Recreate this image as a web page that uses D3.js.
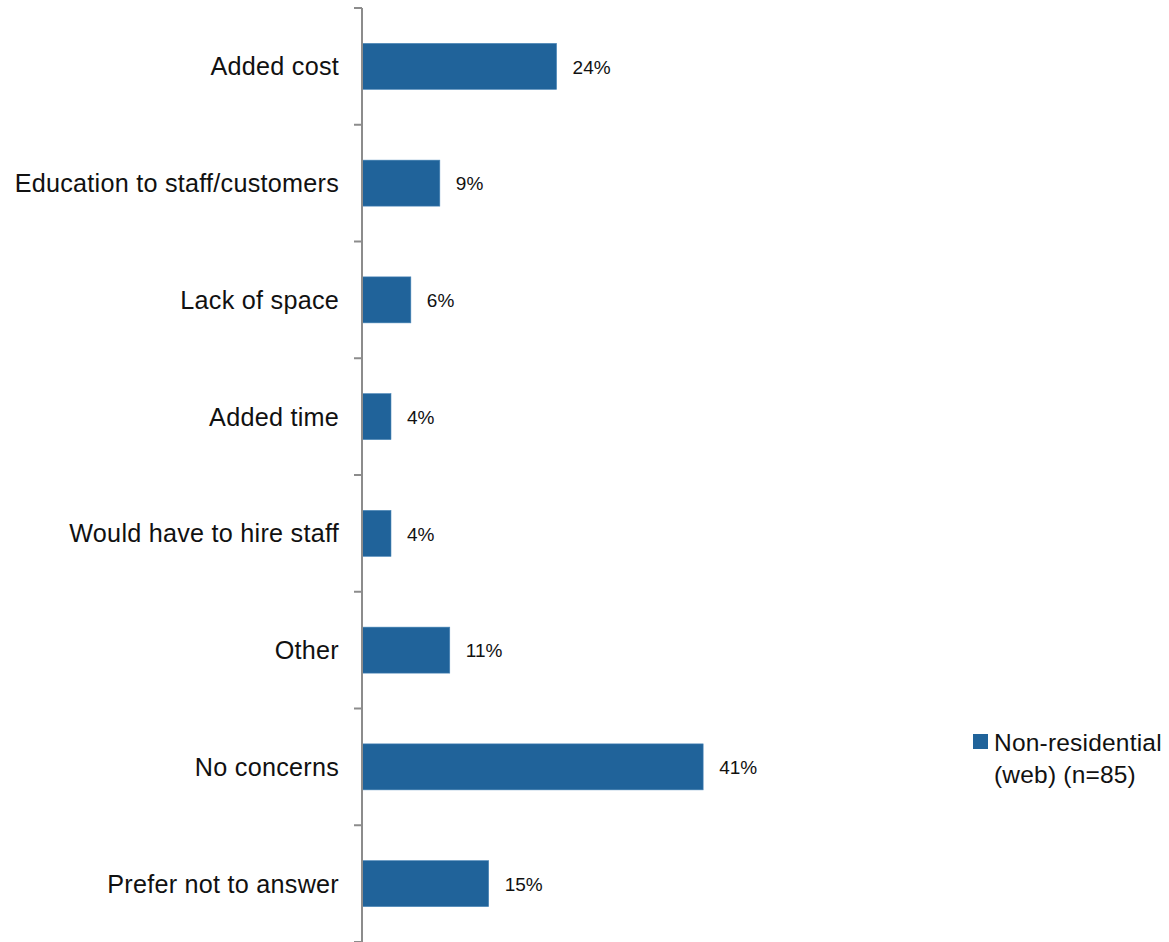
<!DOCTYPE html>
<html>
<head>
<meta charset="utf-8">
<script src="https://cdn.jsdelivr.net/npm/d3@7"></script>
<style>
html, body { margin: 0; padding: 0; background: #fff; }
svg { display: block; }
</style>
</head>
<body>
<svg id="chart" width="1169" height="942"></svg>
<script>
const categories = [
  "Added cost",
  "Education to staff/customers",
  "Lack of space",
  "Added time",
  "Would have to hire staff",
  "Other",
  "No concerns",
  "Prefer not to answer"
];
const values = [23.5, 9.4, 5.9, 3.5, 3.5, 10.6, 41.2, 15.3];
const seriesName = ["Non-residential", "(web) (n=85)"];

const barColor = "#20639a";
const svg = d3.select("#chart");

const x = d3.scaleLinear().domain([0, 45]).range([362, 362 + 45 * 8.28]);
const y = d3.scaleBand().domain(categories).range([8, 942])
  .paddingInner(0.606).paddingOuter(0.303);

// bars
svg.append("g").selectAll("rect").data(categories).join("rect")
  .attr("x", x(0))
  .attr("y", d => y(d))
  .attr("width", (d, i) => x(values[i]) - x(0))
  .attr("height", y.bandwidth())
  .attr("fill", barColor)
  .attr("stroke", "#4a86b8")
  .attr("stroke-width", 0.6);

// value labels
svg.append("g").selectAll("text").data(categories).join("text")
  .attr("x", (d, i) => x(values[i]) + 16)
  .attr("y", d => y(d) + y.bandwidth() / 2)
  .attr("dy", "0.38em")
  .attr("font-family", "'Liberation Sans', Arial, sans-serif")
  .attr("font-size", 19)
  .attr("fill", "#111")
  .text((d, i) => Math.round(values[i]) + "%");

// axis line and boundary ticks
const axisColor = "#8c8c8c";
const bandStep = y.step();
const yStart = y.range()[0];
svg.append("line")
  .attr("x1", x(0)).attr("x2", x(0))
  .attr("y1", yStart).attr("y2", 942)
  .attr("stroke", axisColor).attr("stroke-width", 2);
const boundaries = d3.range(categories.length + 1).map(i => yStart + i * bandStep);
svg.append("g").selectAll("line").data(boundaries).join("line")
  .attr("x1", x(0) - 8).attr("x2", x(0))
  .attr("y1", d => d).attr("y2", d => d)
  .attr("stroke", axisColor).attr("stroke-width", 2);

// category labels
svg.append("g").selectAll("text").data(categories).join("text")
  .attr("x", x(0) - 23)
  .attr("y", d => y(d) + y.bandwidth() / 2)
  .attr("dy", "0.36em")
  .attr("text-anchor", "end")
  .attr("font-family", "'Liberation Sans', Arial, sans-serif")
  .attr("font-size", 25.2)
  .attr("letter-spacing", 0.25)
  .attr("fill", "#111")
  .text(d => d);

// legend
const lg = svg.append("g").attr("transform", "translate(973,734)");
lg.append("rect").attr("width", 15).attr("height", 15).attr("fill", barColor);
lg.selectAll("text").data(seriesName).join("text")
  .attr("x", 21)
  .attr("y", (d, i) => 17 + i * 32)
  .attr("font-family", "'Liberation Sans', Arial, sans-serif")
  .attr("font-size", 24.5)
  .attr("letter-spacing", 0.2)
  .attr("fill", "#111")
  .text(d => d);
</script>
</body>
</html>
